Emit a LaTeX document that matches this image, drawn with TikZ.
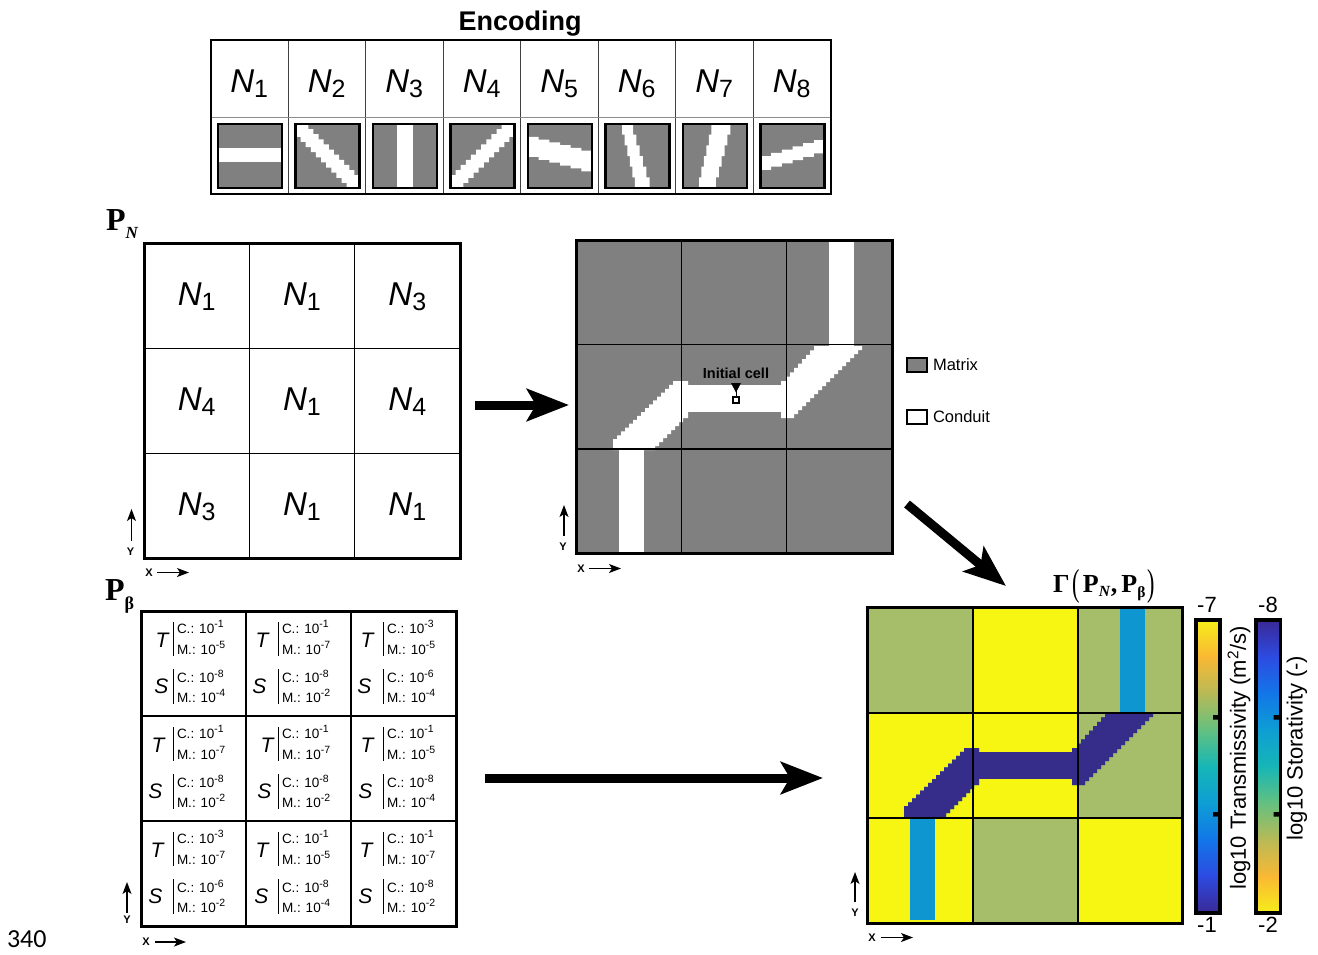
\documentclass[tikz,border=0pt]{standalone}
\usepackage{fontspec}
\usetikzlibrary{arrows.meta}
\newfontfamily\arial{Liberation Sans}
\newfontfamily\timesf{Liberation Serif}
\newfontfamily\calib{Carlito}

\definecolor{matgray}{RGB}{128,128,128}
\definecolor{cellolive}{RGB}{166,189,106}
\definecolor{cellyellow}{RGB}{247,245,18}
\definecolor{condcyan}{RGB}{14,150,208}
\definecolor{condpurple}{RGB}{54,44,138}
% parula-like colour stops, low to high
\definecolor{pa0}{RGB}{58,40,150}
\definecolor{pa1}{RGB}{45,75,225}
\definecolor{pa2}{RGB}{18,118,232}
\definecolor{pa3}{RGB}{14,158,212}
\definecolor{pa4}{RGB}{22,182,182}
\definecolor{pa5}{RGB}{100,192,128}
\definecolor{pa6}{RGB}{184,186,86}
\definecolor{pa7}{RGB}{250,184,52}
\definecolor{pa8}{RGB}{246,238,26}

% N_i label
\newcommand\Nlab[1]{{\arial\fontsize{33}{33}\selectfont\itshape N}{\arial\fontsize{25}{25}\selectfont\raisebox{-5pt}{#1}}}
% exponent of a power of ten
\newcommand\expo[1]{\raisebox{5.5pt}{\fontsize{10.5}{10.5}\selectfont #1}}

% one encoding pattern tile: #1 column, #2 white band path in unit coordinates
\newcommand\patbox[2]{%
  \begin{scope}[shift={({210.5+77.5*(#1-1)+7.5},124)},x=64pt,y=-64pt]
    \fill[matgray] (0,0) rectangle (1,1);
    \begin{scope}
      \clip (0,0) rectangle (1,1);
      \fill[white] #2;
    \end{scope}
    \draw[line width=2.2pt] (0,0) rectangle (1,1);
  \end{scope}}

% conduit network (pixelated edges), in grid-local pixel coordinates
\newcommand\conduitfill[1]{%
  \fill[#1] (43,210) rectangle (68,313);
  \fill[#1] (37,210) -- (37,203) \foreach \k in {1,...,16}{ -- ++(0,-3.875) -- ++(4,0)}
    -- (112,141) -- (112,178) -- (107,178) \foreach \k in {1,...,8}{ -- ++(0,4) -- ++(-4,0)}
    -- (37,210) -- cycle;
  \fill[#1] (107,145) rectangle (212,172);
  \fill[#1] (205,141) -- (210,141) \foreach \k in {1,...,8}{ -- ++(0,-4.375) -- ++(4,0)}
    -- (286,106) -- (286,110) \foreach \k in {1,...,17}{ -- ++(-4,0) -- ++(0,4)}
    -- (205,178) -- cycle;
  \fill[#1] (253,0) rectangle (278,106);}

% one cell of the parameter grid
% #1 name, #2 left, #3 top, #4 gap T, #5 gap S, #6-#9 exponents
\newcommand\pbcell[9]{%
  \draw[barline] (#2+32.5,#3+11) -- (#2+32.5,#3+45);
  \draw[barline] (#2+32.5,#3+58) -- (#2+32.5,#3+93);
  \node[tsym,anchor=base east] (#1T) at (#2+32.5-#4,#3+36) {T};
  \node[tsym,anchor=base east] (#1S) at (#2+32.5-#5,#3+82) {S};
  \node[cmval] (#1Tc) at (#2+36,#3+22) {C.: 10\expo{-#6}};
  \node[cmval] (#1Tm) at (#2+36,#3+43) {M.: 10\expo{-#7}};
  \node[cmval] (#1Sc) at (#2+36,#3+71.5) {C.: 10\expo{-#8}};
  \node[cmval] (#1Sm) at (#2+36,#3+91) {M.: 10\expo{-#9}};}

% vertical colour bar from stacked shadings
\newcommand\cbar[3]{%
  \foreach \ca/\cb [count=\k from 0] in {#3} {
    \shade[top color=\ca,bottom color=\cb] (#1,{620+\k*36.625-0.4}) rectangle (#2,{620+(\k+1)*36.625+0.4});
  }
  \draw[line width=3.5pt] (#1,620) rectangle (#2,913);}

\begin{document}
\begin{tikzpicture}[x=1pt,y=-1pt,
  every node/.style={inner sep=0pt,outer sep=0pt},
  nlab/.style={anchor=base},
  gridline/.style={line width=1.4pt,black},
  gridframe/.style={line width=3pt,black},
  barline/.style={line width=1.1pt},
  tsym/.style={font=\arial\itshape\fontsize{21}{21}\selectfont},
  cmval/.style={anchor=base west,font=\arial\fontsize{13.5}{13.5}\selectfont},
  axlab/.style={font=\arial\bfseries\fontsize{11}{11}\selectfont},
  axarrow/.style={line width=1.1pt,-{Stealth[length=12pt,width=9pt,inset=3pt]}},
  bigarrow/.style={line width=9pt,-{Stealth[length=42pt,width=32pt,inset=9pt]}},
  cbtick/.style={fill=black},
  cblab/.style={font=\arial\fontsize{22}{22}\selectfont},
  legtext/.style={anchor=base west,font=\arial\fontsize{16.5}{16.5}\selectfont}]
\useasboundingbox (0,0) rectangle (1318,954);

% ---------------- encoding table ----------------
\node[anchor=base,font=\arial\bfseries\fontsize{27}{27}\selectfont] (enctitle) at (520,30) {Encoding};
\foreach \i in {1,...,7}
  \draw[line width=0.9pt,black!75] ({210.5+77.5*\i},40) -- ({210.5+77.5*\i},194);
\draw[line width=0.8pt,black!45] (210.5,117) -- (830.5,117);
\draw[line width=2pt] (210.5,40) rectangle (830.5,194);
\foreach \i in {1,...,8}
  \node[nlab] (enc\i) at ({210.5+77.5*(\i-0.5)},92) {\Nlab{\i}};
\patbox{1}{(0,0.37) rectangle (1,0.6)}
\patbox{2}{(0,0) -- (0.2,0) \foreach \k in {1,...,10}{-- ++(0,0.08) -- ++(0.08,0)}
  -- (1,1) -- (0.8,1) \foreach \k in {1,...,10}{-- ++(0,-0.08) -- ++(-0.08,0)} -- cycle}
\patbox{3}{(0.37,0) rectangle (0.63,1)}
\patbox{4}{(1,0) -- (1,0.2) \foreach \k in {1,...,10}{-- ++(-0.08,0) -- ++(0,0.08)}
  -- (0,1) -- (0,0.8) \foreach \k in {1,...,10}{-- ++(0.08,0) -- ++(0,-0.08)} -- cycle}
\patbox{5}{(0,0.2) \foreach \k in {1,...,6}{-- ++(0.16667,0) -- ++(0,0.04333)}
  -- (1,0.74) \foreach \k in {1,...,6}{-- ++(-0.16667,0) -- ++(0,-0.045)} -- cycle}
\patbox{6}{(0.22,0) -- (0.43,0) \foreach \k in {1,...,6}{-- ++(0,0.16667) -- ++(0.05167,0)}
  -- (0.46,1) \foreach \k in {1,...,6}{-- ++(0,-0.16667) -- ++(-0.04,0)} -- cycle}
\patbox{7}{(0.48,0) -- (0.74,0) \foreach \k in {1,...,6}{-- ++(0,0.16667) -- ++(-0.045,0)}
  -- (0.25,1) \foreach \k in {1,...,6}{-- ++(0,-0.16667) -- ++(0.03833,0)} -- cycle}
\patbox{8}{(0,0.5) \foreach \k in {1,...,6}{-- ++(0.16667,0) -- ++(0,-0.05)}
  -- (1,0.46) \foreach \k in {1,...,6}{-- ++(-0.16667,0) -- ++(0,0.05167)} -- cycle}

% ---------------- P_N grid ----------------
\node[anchor=base west,font=\timesf\bfseries\fontsize{32}{32}\selectfont] (pnlab) at (106,230)
  {P\raisebox{-8pt}{\fontsize{17}{17}\selectfont\itshape N}};
\draw[gridline] (249.3,243.5) -- (249.3,558) (354.7,243.5) -- (354.7,558)
  (144,348.3) -- (460,348.3) (144,453.2) -- (460,453.2);
\draw[gridframe] (144,243.5) rectangle (460,558);
\node[nlab] (pn11) at (196.7,305) {\Nlab{1}};
\node[nlab] (pn12) at (302,305) {\Nlab{1}};
\node[nlab] (pn13) at (407.3,305) {\Nlab{3}};
\node[nlab] (pn21) at (196.7,410) {\Nlab{4}};
\node[nlab] (pn22) at (302,410) {\Nlab{1}};
\node[nlab] (pn23) at (407.3,410) {\Nlab{4}};
\node[nlab] (pn31) at (196.7,515) {\Nlab{3}};
\node[nlab] (pn32) at (302,515) {\Nlab{1}};
\node[nlab] (pn33) at (407.3,515) {\Nlab{1}};
\coordinate (pnyt) at (131.5,541); \coordinate (pnyh) at (131.5,509);
\draw[axarrow] (pnyt) -- (pnyh);
\node[axlab] (pny) at (130.5,552) {Y};
\node[axlab] (pnx) at (149,572.5) {X};
\coordinate (pnxt) at (157,572.5); \coordinate (pnxh) at (189,572.5);
\draw[axarrow] (pnxt) -- (pnxh);

% ---------------- conduit network grid ----------------
\begin{scope}[shift={(576,240)}]
  \fill[matgray] (0,0) rectangle (316,313);
  \conduitfill{white}
  \draw[gridline] (105.3,0) -- (105.3,313) (210.7,0) -- (210.7,313)
    (0,104.5) -- (316,104.5) (0,209) -- (316,209);
  \draw[gridframe] (0,0) rectangle (316,313);
\end{scope}
\node[font=\arial\bfseries\fontsize{14.5}{14.5}\selectfont] (initlab) at (736,373) {Initial cell};
\fill (731,383) -- (741,383) -- (736,392.5) -- cycle;
\draw[line width=1pt] (736,391) -- (736,397);
\node[draw,line width=1.3pt,fill=white,minimum size=6pt] (initcell) at (736,400) {};
\coordinate (cgyt) at (564,536); \coordinate (cgyh) at (564,505);
\draw[axarrow] (cgyt) -- (cgyh);
\node[axlab] (cgy) at (563,546.5) {Y};
\node[axlab] (cgx) at (581,568.5) {X};
\coordinate (cgxt) at (589,568.5); \coordinate (cgxh) at (621,568.5);
\draw[axarrow] (cgxt) -- (cgxh);

% legend
\node[draw,line width=2pt,fill=matgray,minimum width=20pt,minimum height=14pt] (legm) at (916.5,364.5) {};
\node[legtext] (legmt) at (933,370.5) {Matrix};
\node[draw,line width=2pt,fill=white,minimum width=20pt,minimum height=14pt] (legc) at (916.5,417) {};
\node[legtext] (legct) at (933,422) {Conduit};

% ---------------- P_beta grid ----------------
\node[anchor=base west,font=\timesf\bfseries\fontsize{32}{32}\selectfont] (pblab) at (105,600)
  {P\raisebox{-9pt}{\fontsize{18}{18}\selectfont β}};
\draw[gridline] (246,611) -- (246,926) (351,611) -- (351,926)
  (141,716) -- (456,716) (141,821) -- (456,821);
\draw[gridframe] (141,611) rectangle (456,926);
\pbcell{b11}{141}{611}{5}{5}{1}{5}{8}{4}
\pbcell{b12}{246}{611}{10}{12}{1}{7}{8}{2}
\pbcell{b13}{351}{611}{10}{12}{3}{5}{6}{4}
\pbcell{b21}{141}{716}{9}{11}{1}{7}{8}{2}
\pbcell{b22}{246}{716}{5}{7}{1}{7}{8}{2}
\pbcell{b23}{351}{716}{10}{11}{1}{5}{8}{4}
\pbcell{b31}{141}{821}{10}{11}{3}{7}{6}{2}
\pbcell{b32}{246}{821}{10}{10}{1}{5}{8}{4}
\pbcell{b33}{351}{821}{11}{11}{1}{7}{8}{2}
\coordinate (pbyt) at (127,913); \coordinate (pbyh) at (127,882);
\draw[axarrow] (pbyt) -- (pbyh);
\node[axlab] (pby) at (127,920) {Y};
\node[axlab] (pbx) at (146,942) {X};
\coordinate (pbxt) at (155,942); \coordinate (pbxh) at (186,942);
\draw[axarrow] (pbxt) -- (pbxh);

% ---------------- property field grid ----------------
\node[anchor=base west,font=\timesf\bfseries\fontsize{26}{26}\selectfont] (gamlab) at (1053,592)
  {Γ\hspace{3pt}\raisebox{-3pt}{\mdseries\scalebox{0.85}[1.45]{(}}\hspace{3pt}P\raisebox{-4pt}{\fontsize{15.5}{15.5}\selectfont\itshape N}\hspace{1pt},\hspace{4pt}P\raisebox{-5pt}{\fontsize{15.5}{15.5}\selectfont β}\hspace{2pt}\raisebox{-3pt}{\mdseries\scalebox{0.85}[1.45]{)}}};
\begin{scope}[shift={(867,607)}]
  \fill[cellolive] (0,0) rectangle (106,106);
  \fill[cellyellow] (106,0) rectangle (211,106);
  \fill[cellolive] (211,0) rectangle (315,106);
  \fill[cellyellow] (0,106) rectangle (211,211);
  \fill[cellolive] (211,106) rectangle (315,211);
  \fill[cellyellow] (0,211) rectangle (106,316);
  \fill[cellolive] (106,211) rectangle (211,316);
  \fill[cellyellow] (211,211) rectangle (315,316);
  \conduitfill{condcyan}
  \begin{scope}
    \clip (0,106) rectangle (315,211);
    \conduitfill{condpurple}
  \end{scope}
  \draw[gridline] (106,0) -- (106,316) (211,0) -- (211,316)
    (0,106) -- (315,106) (0,211) -- (315,211);
  \draw[gridframe] (0,0) rectangle (315,316);
\end{scope}
\coordinate (pfyt) at (855,902); \coordinate (pfyh) at (855,872);
\draw[axarrow] (pfyt) -- (pfyh);
\node[axlab] (pfy) at (855,913) {Y};
\node[axlab] (pfx) at (872,937.5) {X};
\coordinate (pfxt) at (881,937.5); \coordinate (pfxh) at (913,937.5);
\draw[axarrow] (pfxt) -- (pfxh);

% colour bars
\cbar{1196}{1220}{pa8/pa7,pa7/pa6,pa6/pa5,pa5/pa4,pa4/pa3,pa3/pa2,pa2/pa1,pa1/pa0}
\cbar{1256}{1280.5}{pa0/pa1,pa1/pa2,pa2/pa3,pa3/pa4,pa4/pa5,pa5/pa6,pa6/pa7,pa7/pa8}
\fill[cbtick] (1213,715) rectangle (1218.5,719.5) (1213,812) rectangle (1218.5,816.5);
\fill[cbtick] (1273.5,715) rectangle (1279,719.5) (1273.5,812) rectangle (1279,816.5);
\node[cblab] (tmax) at (1207,605) {-7};
\node[cblab] (tmin) at (1207,925) {-1};
\node[cblab] (smax) at (1268,605) {-8};
\node[cblab] (smin) at (1268,925) {-2};
\node[cblab,rotate=90] (tname) at (1239,758) {log10 Transmissivity (m\textsuperscript{2}/s)};
\node[cblab,rotate=90] (sname) at (1297,748) {log10 Storativity (-)};

% ---------------- arrows between stages ----------------
\coordinate (a1s) at (475,405); \coordinate (a1e) at (569,405);
\coordinate (a2s) at (907,504); \coordinate (a2e) at (1006,586);
\coordinate (a3s) at (485,778); \coordinate (a3e) at (823,778);
\draw[bigarrow] (a1s) -- (a1e);
\draw[bigarrow] (a2s) -- (a2e);
\draw[bigarrow] (a3s) -- (a3e);

% figure line number
\node[anchor=base west,font=\calib\fontsize{26}{26}\selectfont] (lineno) at (7,947) {340};
\end{tikzpicture}
\end{document}
